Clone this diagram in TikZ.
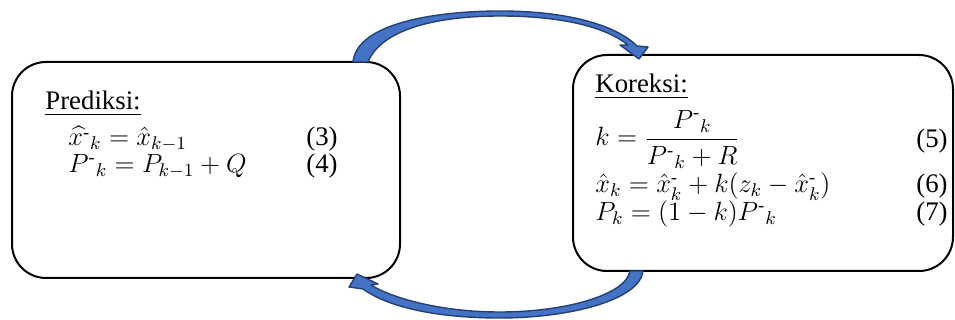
\RequirePackage{fix-cm}
\documentclass[tikz,border=0pt]{standalone}
\usepackage{amsmath}
\usepackage{fontspec}
\setmainfont{Liberation Serif}
\newfontfamily\wordserif{Liberation Serif}
\usetikzlibrary{positioning}
\definecolor{arrowBlue}{RGB}{68,114,196}
\definecolor{arrowEdge}{RGB}{36,64,116}
\newcommand{\supm}{^{\text{-}}}

\begin{document}
\begin{tikzpicture}[x=0.5pt, y=-0.5pt, every node/.style={font={\wordserif\fontsize{13.4}{16}\selectfont}},
  stepbox/.style={draw, line width=1pt, rounded corners=17pt, outer sep=0pt, inner sep=0pt},
  txt/.style={inner sep=0pt},
  eq/.style={inner sep=0pt, font={\wordserif\fontsize{13.2}{15}\selectfont}},
  loop arrow/.style={fill=arrowBlue, draw=arrowEdge, line width=0.7pt, line join=round}]
  \useasboundingbox (0,0) rectangle (955,320);
  % Prediction box
  \node[stepbox, minimum width=194pt, minimum height=108pt] (pred) at (206,170) {};
  \node[txt, anchor=base west] (predTitle) at (45,110) {\underline{Prediksi:}};
  \node[eq, anchor=base west] (eqA) at (68,146) {$\widehat{x\supm}_k = \hat{x}_{k-1}$};
  \node[txt, anchor=base east] (numA) at (338,146) {(3)};
  \node[eq, anchor=base west] (eqB) at (68,173) {${P\supm}_k = P_{k-1} + Q$};
  \node[txt, anchor=base east] (numB) at (338,173) {(4)};
  % Correction box
  \node[stepbox, minimum width=190pt, minimum height=108pt] (kor) at (763,163) {};
  \node[txt, anchor=base west] (korTitle) at (595,93) {\underline{Koreksi:}};
  \node[eq, anchor=base west] (eqC) at (595,146) {$k = \dfrac{{P\supm}_k}{{P\supm}_k + R}$};
  \node[txt, anchor=base east] (numC) at (948,148) {(5)};
  \node[eq, anchor=base west] (eqD) at (595,193) {$\hat{x}_k = {\hat{x}\supm}_k + k(z_k - {\hat{x}\supm}_k)$};
  \node[txt, anchor=base east] (numD) at (948,193) {(6)};
  \node[eq, anchor=base west] (eqE) at (595,221) {$P_k = (1-k){P\supm}_k$};
  \node[txt, anchor=base east] (numE) at (948,221) {(7)};
  % Upper arrow: prediction -> correction
  \filldraw[loop arrow] ([xshift=-23.5pt]pred.north east)
    .. controls (357,22) and (440,11) .. (500,11)
    .. controls (570,11) and (617,26) .. (637,46)
    -- (648,47) -- ([xshift=33pt,yshift=-2pt]kor.north west) -- (620,45) -- (628,45)
    .. controls (607,28) and (565,16) .. (500,16)
    .. controls (440,16) and (382,28) .. ([xshift=-16pt]pred.north east) -- cycle;
  % Lower arrow: correction -> prediction
  \filldraw[loop arrow] ([xshift=35pt]kor.south west)
    .. controls (640,300) and (570,318) .. (500,318)
    .. controls (430,318) and (385,305) .. (363,289)
    -- (349,287) -- ([xshift=-21.5pt,yshift=2pt]pred.south east) -- (378,284) -- (371,285)
    .. controls (392,298) and (440,312) .. (500,312)
    .. controls (565,312) and (626,295) .. ([xshift=28.5pt]kor.south west) -- cycle;
\end{tikzpicture}
\end{document}
